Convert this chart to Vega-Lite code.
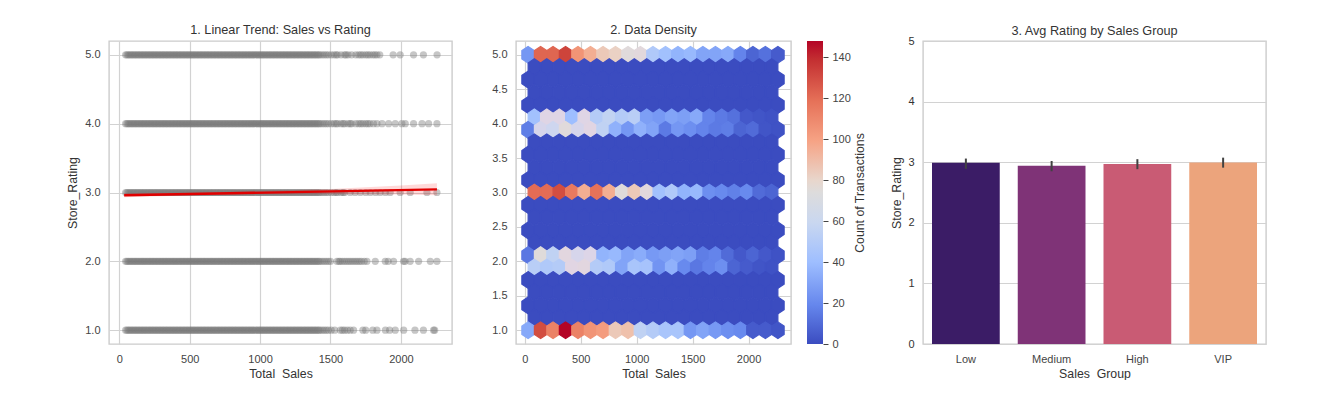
{
"$schema":"https://vega.github.io/schema/vega-lite/v6.json",
"background":"white",
"padding":{"left":66,"top":23,"right":0,"bottom":0},
"bounds":"flush",
"spacing":0,
"config":{
"font":"Liberation Sans",
"view":{"stroke":null},
"title":{"font":"Liberation Sans","fontSize":12.7,"fontWeight":"normal","color":"#333333","offset":4},
"axis":{"labelFont":"Liberation Sans","titleFont":"Liberation Sans","labelFontSize":11,"titleFontSize":12.3,"titleFontWeight":"normal","labelColor":"#444444","titleColor":"#333333","grid":true,"gridColor":"#d2d2d2","gridWidth":1.2,"domain":false,"ticks":false,"labelPadding":9},
"axisX":{"titlePadding":3}
},
"hconcat":[
{
"title":"1. Linear Trend: Sales vs Rating",
"width":343,"height":303,
"view":{"stroke":"#cccccc","strokeWidth":1.4},
"layer":[
{
"data":{"values":[
{"s":45,"r":5},{"s":55,"r":5},{"s":65,"r":5},{"s":75,"r":5},{"s":85,"r":5},{"s":95,"r":5},{"s":105,"r":5},{"s":115,"r":5},{"s":125,"r":5},{"s":135,"r":5},{"s":145,"r":5},{"s":155,"r":5},{"s":165,"r":5},{"s":175,"r":5},{"s":185,"r":5},{"s":195,"r":5},{"s":205,"r":5},{"s":215,"r":5},{"s":225,"r":5},{"s":235,"r":5},{"s":245,"r":5},{"s":255,"r":5},{"s":265,"r":5},{"s":275,"r":5},{"s":285,"r":5},{"s":295,"r":5},{"s":305,"r":5},{"s":315,"r":5},{"s":325,"r":5},{"s":335,"r":5},{"s":345,"r":5},{"s":355,"r":5},{"s":365,"r":5},{"s":375,"r":5},{"s":385,"r":5},{"s":395,"r":5},{"s":405,"r":5},{"s":415,"r":5},{"s":425,"r":5},{"s":435,"r":5},{"s":445,"r":5},{"s":455,"r":5},{"s":465,"r":5},{"s":475,"r":5},{"s":485,"r":5},{"s":495,"r":5},{"s":505,"r":5},{"s":515,"r":5},{"s":525,"r":5},{"s":535,"r":5},{"s":545,"r":5},{"s":555,"r":5},{"s":565,"r":5},{"s":575,"r":5},{"s":585,"r":5},{"s":595,"r":5},{"s":605,"r":5},{"s":615,"r":5},{"s":625,"r":5},{"s":635,"r":5},{"s":645,"r":5},{"s":655,"r":5},{"s":665,"r":5},{"s":675,"r":5},{"s":685,"r":5},{"s":695,"r":5},{"s":705,"r":5},{"s":715,"r":5},{"s":725,"r":5},{"s":735,"r":5},{"s":745,"r":5},{"s":755,"r":5},{"s":765,"r":5},{"s":775,"r":5},{"s":785,"r":5},{"s":795,"r":5},{"s":805,"r":5},{"s":815,"r":5},{"s":825,"r":5},{"s":835,"r":5},{"s":845,"r":5},{"s":855,"r":5},{"s":865,"r":5},{"s":875,"r":5},{"s":885,"r":5},{"s":895,"r":5},{"s":905,"r":5},{"s":915,"r":5},{"s":925,"r":5},{"s":935,"r":5},{"s":945,"r":5},{"s":955,"r":5},{"s":965,"r":5},{"s":975,"r":5},{"s":985,"r":5},{"s":995,"r":5},{"s":1005,"r":5},{"s":1015,"r":5},{"s":1025,"r":5},{"s":1035,"r":5},{"s":1045,"r":5},{"s":1055,"r":5},{"s":1065,"r":5},{"s":1075,"r":5},{"s":1085,"r":5},{"s":1095,"r":5},{"s":1105,"r":5},{"s":1115,"r":5},{"s":1125,"r":5},{"s":1135,"r":5},{"s":1145,"r":5},{"s":1155,"r":5},{"s":1165,"r":5},{"s":1175,"r":5},{"s":1185,"r":5},{"s":1195,"r":5},{"s":1205,"r":5},{"s":1215,"r":5},{"s":1225,"r":5},{"s":1235,"r":5},{"s":1245,"r":5},{"s":1255,"r":5},{"s":1265,"r":5},{"s":1275,"r":5},{"s":1285,"r":5},{"s":1295,"r":5},{"s":1305,"r":5},{"s":1315,"r":5},{"s":1325,"r":5},{"s":1335,"r":5},{"s":1345,"r":5},{"s":1355,"r":5},{"s":1365,"r":5},{"s":1375,"r":5},{"s":1385,"r":5},{"s":1395,"r":5},{"s":1405,"r":5},{"s":1415,"r":5},{"s":1425,"r":5},{"s":1440,"r":5},{"s":1455,"r":5},{"s":1470,"r":5},{"s":1485,"r":5},{"s":1505,"r":5},{"s":1525,"r":5},{"s":1540,"r":5},{"s":1550,"r":5},{"s":1575,"r":5},{"s":1600,"r":5},{"s":1610,"r":5},{"s":1625,"r":5},{"s":1650,"r":5},{"s":1680,"r":5},{"s":1700,"r":5},{"s":1715,"r":5},{"s":1730,"r":5},{"s":1750,"r":5},{"s":1765,"r":5},{"s":1780,"r":5},{"s":1800,"r":5},{"s":1815,"r":5},{"s":1830,"r":5},{"s":1850,"r":5},{"s":1945,"r":5},{"s":1995,"r":5},{"s":2090,"r":5},{"s":2160,"r":5},{"s":2257,"r":5},
{"s":45,"r":4},{"s":55,"r":4},{"s":65,"r":4},{"s":75,"r":4},{"s":85,"r":4},{"s":95,"r":4},{"s":105,"r":4},{"s":115,"r":4},{"s":125,"r":4},{"s":135,"r":4},{"s":145,"r":4},{"s":155,"r":4},{"s":165,"r":4},{"s":175,"r":4},{"s":185,"r":4},{"s":195,"r":4},{"s":205,"r":4},{"s":215,"r":4},{"s":225,"r":4},{"s":235,"r":4},{"s":245,"r":4},{"s":255,"r":4},{"s":265,"r":4},{"s":275,"r":4},{"s":285,"r":4},{"s":295,"r":4},{"s":305,"r":4},{"s":315,"r":4},{"s":325,"r":4},{"s":335,"r":4},{"s":345,"r":4},{"s":355,"r":4},{"s":365,"r":4},{"s":375,"r":4},{"s":385,"r":4},{"s":395,"r":4},{"s":405,"r":4},{"s":415,"r":4},{"s":425,"r":4},{"s":435,"r":4},{"s":445,"r":4},{"s":455,"r":4},{"s":465,"r":4},{"s":475,"r":4},{"s":485,"r":4},{"s":495,"r":4},{"s":505,"r":4},{"s":515,"r":4},{"s":525,"r":4},{"s":535,"r":4},{"s":545,"r":4},{"s":555,"r":4},{"s":565,"r":4},{"s":575,"r":4},{"s":585,"r":4},{"s":595,"r":4},{"s":605,"r":4},{"s":615,"r":4},{"s":625,"r":4},{"s":635,"r":4},{"s":645,"r":4},{"s":655,"r":4},{"s":665,"r":4},{"s":675,"r":4},{"s":685,"r":4},{"s":695,"r":4},{"s":705,"r":4},{"s":715,"r":4},{"s":725,"r":4},{"s":735,"r":4},{"s":745,"r":4},{"s":755,"r":4},{"s":765,"r":4},{"s":775,"r":4},{"s":785,"r":4},{"s":795,"r":4},{"s":805,"r":4},{"s":815,"r":4},{"s":825,"r":4},{"s":835,"r":4},{"s":845,"r":4},{"s":855,"r":4},{"s":865,"r":4},{"s":875,"r":4},{"s":885,"r":4},{"s":895,"r":4},{"s":905,"r":4},{"s":915,"r":4},{"s":925,"r":4},{"s":935,"r":4},{"s":945,"r":4},{"s":955,"r":4},{"s":965,"r":4},{"s":975,"r":4},{"s":985,"r":4},{"s":995,"r":4},{"s":1005,"r":4},{"s":1015,"r":4},{"s":1025,"r":4},{"s":1035,"r":4},{"s":1045,"r":4},{"s":1055,"r":4},{"s":1065,"r":4},{"s":1075,"r":4},{"s":1085,"r":4},{"s":1095,"r":4},{"s":1105,"r":4},{"s":1115,"r":4},{"s":1125,"r":4},{"s":1135,"r":4},{"s":1145,"r":4},{"s":1155,"r":4},{"s":1165,"r":4},{"s":1175,"r":4},{"s":1185,"r":4},{"s":1195,"r":4},{"s":1205,"r":4},{"s":1215,"r":4},{"s":1225,"r":4},{"s":1235,"r":4},{"s":1245,"r":4},{"s":1255,"r":4},{"s":1265,"r":4},{"s":1275,"r":4},{"s":1285,"r":4},{"s":1295,"r":4},{"s":1305,"r":4},{"s":1315,"r":4},{"s":1325,"r":4},{"s":1335,"r":4},{"s":1345,"r":4},{"s":1355,"r":4},{"s":1365,"r":4},{"s":1375,"r":4},{"s":1385,"r":4},{"s":1395,"r":4},{"s":1405,"r":4},{"s":1415,"r":4},{"s":1425,"r":4},{"s":1440,"r":4},{"s":1455,"r":4},{"s":1470,"r":4},{"s":1485,"r":4},{"s":1505,"r":4},{"s":1525,"r":4},{"s":1540,"r":4},{"s":1550,"r":4},{"s":1575,"r":4},{"s":1590,"r":4},{"s":1600,"r":4},{"s":1625,"r":4},{"s":1640,"r":4},{"s":1650,"r":4},{"s":1680,"r":4},{"s":1700,"r":4},{"s":1715,"r":4},{"s":1730,"r":4},{"s":1750,"r":4},{"s":1765,"r":4},{"s":1780,"r":4},{"s":1805,"r":4},{"s":1830,"r":4},{"s":1866,"r":4},{"s":1913,"r":4},{"s":1960,"r":4},{"s":2007,"r":4},{"s":2031,"r":4},{"s":2090,"r":4},{"s":2150,"r":4},{"s":2197,"r":4},{"s":2256,"r":4},
{"s":45,"r":3},{"s":55,"r":3},{"s":65,"r":3},{"s":75,"r":3},{"s":85,"r":3},{"s":95,"r":3},{"s":105,"r":3},{"s":115,"r":3},{"s":125,"r":3},{"s":135,"r":3},{"s":145,"r":3},{"s":155,"r":3},{"s":165,"r":3},{"s":175,"r":3},{"s":185,"r":3},{"s":195,"r":3},{"s":205,"r":3},{"s":215,"r":3},{"s":225,"r":3},{"s":235,"r":3},{"s":245,"r":3},{"s":255,"r":3},{"s":265,"r":3},{"s":275,"r":3},{"s":285,"r":3},{"s":295,"r":3},{"s":305,"r":3},{"s":315,"r":3},{"s":325,"r":3},{"s":335,"r":3},{"s":345,"r":3},{"s":355,"r":3},{"s":365,"r":3},{"s":375,"r":3},{"s":385,"r":3},{"s":395,"r":3},{"s":405,"r":3},{"s":415,"r":3},{"s":425,"r":3},{"s":435,"r":3},{"s":445,"r":3},{"s":455,"r":3},{"s":465,"r":3},{"s":475,"r":3},{"s":485,"r":3},{"s":495,"r":3},{"s":505,"r":3},{"s":515,"r":3},{"s":525,"r":3},{"s":535,"r":3},{"s":545,"r":3},{"s":555,"r":3},{"s":565,"r":3},{"s":575,"r":3},{"s":585,"r":3},{"s":595,"r":3},{"s":605,"r":3},{"s":615,"r":3},{"s":625,"r":3},{"s":635,"r":3},{"s":645,"r":3},{"s":655,"r":3},{"s":665,"r":3},{"s":675,"r":3},{"s":685,"r":3},{"s":695,"r":3},{"s":705,"r":3},{"s":715,"r":3},{"s":725,"r":3},{"s":735,"r":3},{"s":745,"r":3},{"s":755,"r":3},{"s":765,"r":3},{"s":775,"r":3},{"s":785,"r":3},{"s":795,"r":3},{"s":805,"r":3},{"s":815,"r":3},{"s":825,"r":3},{"s":835,"r":3},{"s":845,"r":3},{"s":855,"r":3},{"s":865,"r":3},{"s":875,"r":3},{"s":885,"r":3},{"s":895,"r":3},{"s":905,"r":3},{"s":915,"r":3},{"s":925,"r":3},{"s":935,"r":3},{"s":945,"r":3},{"s":955,"r":3},{"s":965,"r":3},{"s":975,"r":3},{"s":985,"r":3},{"s":995,"r":3},{"s":1005,"r":3},{"s":1015,"r":3},{"s":1025,"r":3},{"s":1035,"r":3},{"s":1045,"r":3},{"s":1055,"r":3},{"s":1065,"r":3},{"s":1075,"r":3},{"s":1085,"r":3},{"s":1095,"r":3},{"s":1105,"r":3},{"s":1115,"r":3},{"s":1125,"r":3},{"s":1135,"r":3},{"s":1145,"r":3},{"s":1155,"r":3},{"s":1165,"r":3},{"s":1175,"r":3},{"s":1185,"r":3},{"s":1195,"r":3},{"s":1205,"r":3},{"s":1215,"r":3},{"s":1225,"r":3},{"s":1235,"r":3},{"s":1245,"r":3},{"s":1255,"r":3},{"s":1265,"r":3},{"s":1275,"r":3},{"s":1285,"r":3},{"s":1295,"r":3},{"s":1305,"r":3},{"s":1315,"r":3},{"s":1325,"r":3},{"s":1335,"r":3},{"s":1345,"r":3},{"s":1355,"r":3},{"s":1365,"r":3},{"s":1375,"r":3},{"s":1385,"r":3},{"s":1395,"r":3},{"s":1405,"r":3},{"s":1415,"r":3},{"s":1425,"r":3},{"s":1440,"r":3},{"s":1455,"r":3},{"s":1470,"r":3},{"s":1485,"r":3},{"s":1505,"r":3},{"s":1525,"r":3},{"s":1540,"r":3},{"s":1550,"r":3},{"s":1575,"r":3},{"s":1590,"r":3},{"s":1600,"r":3},{"s":1640,"r":3},{"s":1675,"r":3},{"s":1712,"r":3},{"s":1750,"r":3},{"s":1783,"r":3},{"s":1820,"r":3},{"s":1853,"r":3},{"s":1890,"r":3},{"s":1924,"r":3},{"s":1995,"r":3},{"s":2066,"r":3},{"s":2185,"r":3},{"s":2256,"r":3},
{"s":45,"r":2},{"s":55,"r":2},{"s":65,"r":2},{"s":75,"r":2},{"s":85,"r":2},{"s":95,"r":2},{"s":105,"r":2},{"s":115,"r":2},{"s":125,"r":2},{"s":135,"r":2},{"s":145,"r":2},{"s":155,"r":2},{"s":165,"r":2},{"s":175,"r":2},{"s":185,"r":2},{"s":195,"r":2},{"s":205,"r":2},{"s":215,"r":2},{"s":225,"r":2},{"s":235,"r":2},{"s":245,"r":2},{"s":255,"r":2},{"s":265,"r":2},{"s":275,"r":2},{"s":285,"r":2},{"s":295,"r":2},{"s":305,"r":2},{"s":315,"r":2},{"s":325,"r":2},{"s":335,"r":2},{"s":345,"r":2},{"s":355,"r":2},{"s":365,"r":2},{"s":375,"r":2},{"s":385,"r":2},{"s":395,"r":2},{"s":405,"r":2},{"s":415,"r":2},{"s":425,"r":2},{"s":435,"r":2},{"s":445,"r":2},{"s":455,"r":2},{"s":465,"r":2},{"s":475,"r":2},{"s":485,"r":2},{"s":495,"r":2},{"s":505,"r":2},{"s":515,"r":2},{"s":525,"r":2},{"s":535,"r":2},{"s":545,"r":2},{"s":555,"r":2},{"s":565,"r":2},{"s":575,"r":2},{"s":585,"r":2},{"s":595,"r":2},{"s":605,"r":2},{"s":615,"r":2},{"s":625,"r":2},{"s":635,"r":2},{"s":645,"r":2},{"s":655,"r":2},{"s":665,"r":2},{"s":675,"r":2},{"s":685,"r":2},{"s":695,"r":2},{"s":705,"r":2},{"s":715,"r":2},{"s":725,"r":2},{"s":735,"r":2},{"s":745,"r":2},{"s":755,"r":2},{"s":765,"r":2},{"s":775,"r":2},{"s":785,"r":2},{"s":795,"r":2},{"s":805,"r":2},{"s":815,"r":2},{"s":825,"r":2},{"s":835,"r":2},{"s":845,"r":2},{"s":855,"r":2},{"s":865,"r":2},{"s":875,"r":2},{"s":885,"r":2},{"s":895,"r":2},{"s":905,"r":2},{"s":915,"r":2},{"s":925,"r":2},{"s":935,"r":2},{"s":945,"r":2},{"s":955,"r":2},{"s":965,"r":2},{"s":975,"r":2},{"s":985,"r":2},{"s":995,"r":2},{"s":1005,"r":2},{"s":1015,"r":2},{"s":1025,"r":2},{"s":1035,"r":2},{"s":1045,"r":2},{"s":1055,"r":2},{"s":1065,"r":2},{"s":1075,"r":2},{"s":1085,"r":2},{"s":1095,"r":2},{"s":1105,"r":2},{"s":1115,"r":2},{"s":1125,"r":2},{"s":1135,"r":2},{"s":1145,"r":2},{"s":1155,"r":2},{"s":1165,"r":2},{"s":1175,"r":2},{"s":1185,"r":2},{"s":1195,"r":2},{"s":1205,"r":2},{"s":1215,"r":2},{"s":1225,"r":2},{"s":1235,"r":2},{"s":1245,"r":2},{"s":1255,"r":2},{"s":1265,"r":2},{"s":1275,"r":2},{"s":1285,"r":2},{"s":1295,"r":2},{"s":1305,"r":2},{"s":1315,"r":2},{"s":1325,"r":2},{"s":1335,"r":2},{"s":1345,"r":2},{"s":1355,"r":2},{"s":1365,"r":2},{"s":1375,"r":2},{"s":1385,"r":2},{"s":1395,"r":2},{"s":1405,"r":2},{"s":1415,"r":2},{"s":1425,"r":2},{"s":1440,"r":2},{"s":1455,"r":2},{"s":1470,"r":2},{"s":1485,"r":2},{"s":1500,"r":2},{"s":1546,"r":2},{"s":1560,"r":2},{"s":1570,"r":2},{"s":1585,"r":2},{"s":1600,"r":2},{"s":1615,"r":2},{"s":1630,"r":2},{"s":1645,"r":2},{"s":1660,"r":2},{"s":1675,"r":2},{"s":1690,"r":2},{"s":1705,"r":2},{"s":1720,"r":2},{"s":1740,"r":2},{"s":1759,"r":2},{"s":1818,"r":2},{"s":1889,"r":2},{"s":1910,"r":2},{"s":1948,"r":2},{"s":2019,"r":2},{"s":2030,"r":2},{"s":2066,"r":2},{"s":2126,"r":2},{"s":2209,"r":2},{"s":2256,"r":2},
{"s":45,"r":1},{"s":55,"r":1},{"s":65,"r":1},{"s":75,"r":1},{"s":85,"r":1},{"s":95,"r":1},{"s":105,"r":1},{"s":115,"r":1},{"s":125,"r":1},{"s":135,"r":1},{"s":145,"r":1},{"s":155,"r":1},{"s":165,"r":1},{"s":175,"r":1},{"s":185,"r":1},{"s":195,"r":1},{"s":205,"r":1},{"s":215,"r":1},{"s":225,"r":1},{"s":235,"r":1},{"s":245,"r":1},{"s":255,"r":1},{"s":265,"r":1},{"s":275,"r":1},{"s":285,"r":1},{"s":295,"r":1},{"s":305,"r":1},{"s":315,"r":1},{"s":325,"r":1},{"s":335,"r":1},{"s":345,"r":1},{"s":355,"r":1},{"s":365,"r":1},{"s":375,"r":1},{"s":385,"r":1},{"s":395,"r":1},{"s":405,"r":1},{"s":415,"r":1},{"s":425,"r":1},{"s":435,"r":1},{"s":445,"r":1},{"s":455,"r":1},{"s":465,"r":1},{"s":475,"r":1},{"s":485,"r":1},{"s":495,"r":1},{"s":505,"r":1},{"s":515,"r":1},{"s":525,"r":1},{"s":535,"r":1},{"s":545,"r":1},{"s":555,"r":1},{"s":565,"r":1},{"s":575,"r":1},{"s":585,"r":1},{"s":595,"r":1},{"s":605,"r":1},{"s":615,"r":1},{"s":625,"r":1},{"s":635,"r":1},{"s":645,"r":1},{"s":655,"r":1},{"s":665,"r":1},{"s":675,"r":1},{"s":685,"r":1},{"s":695,"r":1},{"s":705,"r":1},{"s":715,"r":1},{"s":725,"r":1},{"s":735,"r":1},{"s":745,"r":1},{"s":755,"r":1},{"s":765,"r":1},{"s":775,"r":1},{"s":785,"r":1},{"s":795,"r":1},{"s":805,"r":1},{"s":815,"r":1},{"s":825,"r":1},{"s":835,"r":1},{"s":845,"r":1},{"s":855,"r":1},{"s":865,"r":1},{"s":875,"r":1},{"s":885,"r":1},{"s":895,"r":1},{"s":905,"r":1},{"s":915,"r":1},{"s":925,"r":1},{"s":935,"r":1},{"s":945,"r":1},{"s":955,"r":1},{"s":965,"r":1},{"s":975,"r":1},{"s":985,"r":1},{"s":995,"r":1},{"s":1005,"r":1},{"s":1015,"r":1},{"s":1025,"r":1},{"s":1035,"r":1},{"s":1045,"r":1},{"s":1055,"r":1},{"s":1065,"r":1},{"s":1075,"r":1},{"s":1085,"r":1},{"s":1095,"r":1},{"s":1105,"r":1},{"s":1115,"r":1},{"s":1125,"r":1},{"s":1135,"r":1},{"s":1145,"r":1},{"s":1155,"r":1},{"s":1165,"r":1},{"s":1175,"r":1},{"s":1185,"r":1},{"s":1195,"r":1},{"s":1205,"r":1},{"s":1215,"r":1},{"s":1225,"r":1},{"s":1235,"r":1},{"s":1245,"r":1},{"s":1255,"r":1},{"s":1265,"r":1},{"s":1275,"r":1},{"s":1285,"r":1},{"s":1295,"r":1},{"s":1305,"r":1},{"s":1315,"r":1},{"s":1325,"r":1},{"s":1335,"r":1},{"s":1345,"r":1},{"s":1355,"r":1},{"s":1365,"r":1},{"s":1375,"r":1},{"s":1385,"r":1},{"s":1395,"r":1},{"s":1405,"r":1},{"s":1415,"r":1},{"s":1425,"r":1},{"s":1440,"r":1},{"s":1455,"r":1},{"s":1470,"r":1},{"s":1485,"r":1},{"s":1505,"r":1},{"s":1530,"r":1},{"s":1570,"r":1},{"s":1585,"r":1},{"s":1600,"r":1},{"s":1620,"r":1},{"s":1640,"r":1},{"s":1664,"r":1},{"s":1730,"r":1},{"s":1750,"r":1},{"s":1800,"r":1},{"s":1830,"r":1},{"s":1890,"r":1},{"s":1920,"r":1},{"s":1960,"r":1},{"s":2020,"r":1},{"s":2100,"r":1},{"s":2160,"r":1},{"s":2232,"r":1},{"s":2240,"r":1}
]},
"mark":{"type":"circle","size":52,"color":"#777777","opacity":0.42},
"encoding":{
"x":{"field":"s","type":"quantitative","title":"Total_Sales","scale":{"domain":[-73,2363],"nice":false,"zero":false},"axis":{"values":[0,500,1000,1500,2000],"format":"d"}},
"y":{"field":"r","type":"quantitative","title":"Store_Rating","scale":{"domain":[0.8,5.2],"nice":false,"zero":false},"axis":{"values":[1,1.5,2,2.5,3,3.5,4,4.5,5],"format":".1f","titlePadding":5}}
}
},
{
"data":{"values":[{"s":35,"lo":2.93,"hi":2.99},{"s":500,"lo":2.955,"hi":2.995},{"s":1000,"lo":2.975,"hi":3.02},{"s":1500,"lo":2.975,"hi":3.05},{"s":2000,"lo":2.97,"hi":3.1},{"s":2256,"lo":2.96,"hi":3.135}]},
"mark":{"type":"area","color":"#ff0000","opacity":0.15},
"encoding":{
"x":{"field":"s","type":"quantitative"},
"y":{"field":"lo","type":"quantitative"},
"y2":{"field":"hi"}
}
},
{
"data":{"values":[{"s":35,"fit":2.959},{"s":2256,"fit":3.046}]},
"mark":{"type":"line","color":"#e00000","strokeWidth":2.4},
"encoding":{
"x":{"field":"s","type":"quantitative"},
"y":{"field":"fit","type":"quantitative"}
}
}
]
},
{"width":64,"height":303,"data":{"values":[]},"mark":{"type":"rect","opacity":0},"encoding":{}},
{
"title":"2. Data Density",
"width":275,"height":303,
"view":{"stroke":"#cccccc","strokeWidth":1.4},
"data":{"values":[
{"x":30,"y":5.0,"n":25},{"x":142,"y":5.0,"n":122},{"x":253,"y":5.0,"n":122},{"x":365,"y":5.0,"n":133},{"x":476,"y":5.0,"n":105},{"x":588,"y":5.0,"n":95},{"x":700,"y":5.0,"n":85},{"x":811,"y":5.0,"n":82},{"x":923,"y":5.0,"n":72},{"x":1034,"y":5.0,"n":70},{"x":1146,"y":5.0,"n":48},{"x":1258,"y":5.0,"n":42},{"x":1369,"y":5.0,"n":36},{"x":1481,"y":5.0,"n":38},{"x":1592,"y":5.0,"n":30},{"x":1704,"y":5.0,"n":30},{"x":1816,"y":5.0,"n":32},{"x":1927,"y":5.0,"n":18},{"x":2039,"y":5.0,"n":8},{"x":2150,"y":5.0,"n":12},{"x":2262,"y":5.0,"n":5},
{"x":86,"y":4.82,"n":0},{"x":197,"y":4.82,"n":0},{"x":309,"y":4.82,"n":0},{"x":421,"y":4.82,"n":0},{"x":532,"y":4.82,"n":0},{"x":644,"y":4.82,"n":0},{"x":755,"y":4.82,"n":0},{"x":867,"y":4.82,"n":0},{"x":979,"y":4.82,"n":0},{"x":1090,"y":4.82,"n":0},{"x":1202,"y":4.82,"n":0},{"x":1313,"y":4.82,"n":0},{"x":1425,"y":4.82,"n":0},{"x":1537,"y":4.82,"n":0},{"x":1648,"y":4.82,"n":0},{"x":1760,"y":4.82,"n":0},{"x":1871,"y":4.82,"n":0},{"x":1983,"y":4.82,"n":0},{"x":2095,"y":4.82,"n":0},{"x":2206,"y":4.82,"n":0},
{"x":30,"y":4.64,"n":0},{"x":142,"y":4.64,"n":0},{"x":253,"y":4.64,"n":0},{"x":365,"y":4.64,"n":0},{"x":476,"y":4.64,"n":0},{"x":588,"y":4.64,"n":0},{"x":700,"y":4.64,"n":0},{"x":811,"y":4.64,"n":0},{"x":923,"y":4.64,"n":0},{"x":1034,"y":4.64,"n":0},{"x":1146,"y":4.64,"n":0},{"x":1258,"y":4.64,"n":0},{"x":1369,"y":4.64,"n":0},{"x":1481,"y":4.64,"n":0},{"x":1592,"y":4.64,"n":0},{"x":1704,"y":4.64,"n":0},{"x":1816,"y":4.64,"n":0},{"x":1927,"y":4.64,"n":0},{"x":2039,"y":4.64,"n":0},{"x":2150,"y":4.64,"n":0},{"x":2262,"y":4.64,"n":0},
{"x":86,"y":4.45,"n":0},{"x":197,"y":4.45,"n":0},{"x":309,"y":4.45,"n":0},{"x":421,"y":4.45,"n":0},{"x":532,"y":4.45,"n":0},{"x":644,"y":4.45,"n":0},{"x":755,"y":4.45,"n":0},{"x":867,"y":4.45,"n":0},{"x":979,"y":4.45,"n":0},{"x":1090,"y":4.45,"n":0},{"x":1202,"y":4.45,"n":0},{"x":1313,"y":4.45,"n":0},{"x":1425,"y":4.45,"n":0},{"x":1537,"y":4.45,"n":0},{"x":1648,"y":4.45,"n":0},{"x":1760,"y":4.45,"n":0},{"x":1871,"y":4.45,"n":0},{"x":1983,"y":4.45,"n":0},{"x":2095,"y":4.45,"n":0},{"x":2206,"y":4.45,"n":0},
{"x":30,"y":4.27,"n":0},{"x":142,"y":4.27,"n":0},{"x":253,"y":4.27,"n":0},{"x":365,"y":4.27,"n":0},{"x":476,"y":4.27,"n":0},{"x":588,"y":4.27,"n":0},{"x":700,"y":4.27,"n":0},{"x":811,"y":4.27,"n":0},{"x":923,"y":4.27,"n":0},{"x":1034,"y":4.27,"n":0},{"x":1146,"y":4.27,"n":0},{"x":1258,"y":4.27,"n":0},{"x":1369,"y":4.27,"n":0},{"x":1481,"y":4.27,"n":0},{"x":1592,"y":4.27,"n":0},{"x":1704,"y":4.27,"n":0},{"x":1816,"y":4.27,"n":0},{"x":1927,"y":4.27,"n":0},{"x":2039,"y":4.27,"n":0},{"x":2150,"y":4.27,"n":0},{"x":2262,"y":4.27,"n":0},
{"x":86,"y":4.09,"n":42},{"x":197,"y":4.09,"n":65},{"x":309,"y":4.09,"n":65},{"x":421,"y":4.09,"n":40},{"x":532,"y":4.09,"n":65},{"x":644,"y":4.09,"n":50},{"x":755,"y":4.09,"n":56},{"x":867,"y":4.09,"n":50},{"x":979,"y":4.09,"n":52},{"x":1090,"y":4.09,"n":28},{"x":1202,"y":4.09,"n":26},{"x":1313,"y":4.09,"n":30},{"x":1425,"y":4.09,"n":28},{"x":1537,"y":4.09,"n":32},{"x":1648,"y":4.09,"n":18},{"x":1760,"y":4.09,"n":15},{"x":1871,"y":4.09,"n":12},{"x":1983,"y":4.09,"n":4},{"x":2095,"y":4.09,"n":3},{"x":2206,"y":4.09,"n":2},
{"x":30,"y":3.91,"n":16},{"x":142,"y":3.91,"n":62},{"x":253,"y":3.91,"n":60},{"x":365,"y":3.91,"n":72},{"x":476,"y":3.91,"n":62},{"x":588,"y":3.91,"n":66},{"x":700,"y":3.91,"n":55},{"x":811,"y":3.91,"n":35},{"x":923,"y":3.91,"n":25},{"x":1034,"y":3.91,"n":35},{"x":1146,"y":3.91,"n":30},{"x":1258,"y":3.91,"n":15},{"x":1369,"y":3.91,"n":25},{"x":1481,"y":3.91,"n":22},{"x":1592,"y":3.91,"n":18},{"x":1704,"y":3.91,"n":15},{"x":1816,"y":3.91,"n":16},{"x":1927,"y":3.91,"n":8},{"x":2039,"y":3.91,"n":10},{"x":2150,"y":3.91,"n":3},{"x":2262,"y":3.91,"n":2},
{"x":86,"y":3.73,"n":0},{"x":197,"y":3.73,"n":0},{"x":309,"y":3.73,"n":0},{"x":421,"y":3.73,"n":0},{"x":532,"y":3.73,"n":0},{"x":644,"y":3.73,"n":0},{"x":755,"y":3.73,"n":0},{"x":867,"y":3.73,"n":0},{"x":979,"y":3.73,"n":0},{"x":1090,"y":3.73,"n":0},{"x":1202,"y":3.73,"n":0},{"x":1313,"y":3.73,"n":0},{"x":1425,"y":3.73,"n":0},{"x":1537,"y":3.73,"n":0},{"x":1648,"y":3.73,"n":0},{"x":1760,"y":3.73,"n":0},{"x":1871,"y":3.73,"n":0},{"x":1983,"y":3.73,"n":0},{"x":2095,"y":3.73,"n":0},{"x":2206,"y":3.73,"n":0},
{"x":30,"y":3.55,"n":0},{"x":142,"y":3.55,"n":0},{"x":253,"y":3.55,"n":0},{"x":365,"y":3.55,"n":0},{"x":476,"y":3.55,"n":0},{"x":588,"y":3.55,"n":0},{"x":700,"y":3.55,"n":0},{"x":811,"y":3.55,"n":0},{"x":923,"y":3.55,"n":0},{"x":1034,"y":3.55,"n":0},{"x":1146,"y":3.55,"n":0},{"x":1258,"y":3.55,"n":0},{"x":1369,"y":3.55,"n":0},{"x":1481,"y":3.55,"n":0},{"x":1592,"y":3.55,"n":0},{"x":1704,"y":3.55,"n":0},{"x":1816,"y":3.55,"n":0},{"x":1927,"y":3.55,"n":0},{"x":2039,"y":3.55,"n":0},{"x":2150,"y":3.55,"n":0},{"x":2262,"y":3.55,"n":0},
{"x":86,"y":3.36,"n":0},{"x":197,"y":3.36,"n":0},{"x":309,"y":3.36,"n":0},{"x":421,"y":3.36,"n":0},{"x":532,"y":3.36,"n":0},{"x":644,"y":3.36,"n":0},{"x":755,"y":3.36,"n":0},{"x":867,"y":3.36,"n":0},{"x":979,"y":3.36,"n":0},{"x":1090,"y":3.36,"n":0},{"x":1202,"y":3.36,"n":0},{"x":1313,"y":3.36,"n":0},{"x":1425,"y":3.36,"n":0},{"x":1537,"y":3.36,"n":0},{"x":1648,"y":3.36,"n":0},{"x":1760,"y":3.36,"n":0},{"x":1871,"y":3.36,"n":0},{"x":1983,"y":3.36,"n":0},{"x":2095,"y":3.36,"n":0},{"x":2206,"y":3.36,"n":0},
{"x":30,"y":3.18,"n":0},{"x":142,"y":3.18,"n":0},{"x":253,"y":3.18,"n":0},{"x":365,"y":3.18,"n":0},{"x":476,"y":3.18,"n":0},{"x":588,"y":3.18,"n":0},{"x":700,"y":3.18,"n":0},{"x":811,"y":3.18,"n":0},{"x":923,"y":3.18,"n":0},{"x":1034,"y":3.18,"n":0},{"x":1146,"y":3.18,"n":0},{"x":1258,"y":3.18,"n":0},{"x":1369,"y":3.18,"n":0},{"x":1481,"y":3.18,"n":0},{"x":1592,"y":3.18,"n":0},{"x":1704,"y":3.18,"n":0},{"x":1816,"y":3.18,"n":0},{"x":1927,"y":3.18,"n":0},{"x":2039,"y":3.18,"n":0},{"x":2150,"y":3.18,"n":0},{"x":2262,"y":3.18,"n":0},
{"x":86,"y":3.0,"n":120},{"x":197,"y":3.0,"n":120},{"x":309,"y":3.0,"n":130},{"x":421,"y":3.0,"n":115},{"x":532,"y":3.0,"n":95},{"x":644,"y":3.0,"n":118},{"x":755,"y":3.0,"n":95},{"x":867,"y":3.0,"n":75},{"x":979,"y":3.0,"n":85},{"x":1090,"y":3.0,"n":70},{"x":1202,"y":3.0,"n":42},{"x":1313,"y":3.0,"n":48},{"x":1425,"y":3.0,"n":36},{"x":1537,"y":3.0,"n":38},{"x":1648,"y":3.0,"n":22},{"x":1760,"y":3.0,"n":20},{"x":1871,"y":3.0,"n":17},{"x":1983,"y":3.0,"n":20},{"x":2095,"y":3.0,"n":10},{"x":2206,"y":3.0,"n":8},
{"x":30,"y":2.82,"n":0},{"x":142,"y":2.82,"n":0},{"x":253,"y":2.82,"n":0},{"x":365,"y":2.82,"n":0},{"x":476,"y":2.82,"n":0},{"x":588,"y":2.82,"n":0},{"x":700,"y":2.82,"n":0},{"x":811,"y":2.82,"n":0},{"x":923,"y":2.82,"n":0},{"x":1034,"y":2.82,"n":0},{"x":1146,"y":2.82,"n":0},{"x":1258,"y":2.82,"n":0},{"x":1369,"y":2.82,"n":0},{"x":1481,"y":2.82,"n":0},{"x":1592,"y":2.82,"n":0},{"x":1704,"y":2.82,"n":0},{"x":1816,"y":2.82,"n":0},{"x":1927,"y":2.82,"n":0},{"x":2039,"y":2.82,"n":0},{"x":2150,"y":2.82,"n":0},{"x":2262,"y":2.82,"n":0},
{"x":86,"y":2.64,"n":0},{"x":197,"y":2.64,"n":0},{"x":309,"y":2.64,"n":0},{"x":421,"y":2.64,"n":0},{"x":532,"y":2.64,"n":0},{"x":644,"y":2.64,"n":0},{"x":755,"y":2.64,"n":0},{"x":867,"y":2.64,"n":0},{"x":979,"y":2.64,"n":0},{"x":1090,"y":2.64,"n":0},{"x":1202,"y":2.64,"n":0},{"x":1313,"y":2.64,"n":0},{"x":1425,"y":2.64,"n":0},{"x":1537,"y":2.64,"n":0},{"x":1648,"y":2.64,"n":0},{"x":1760,"y":2.64,"n":0},{"x":1871,"y":2.64,"n":0},{"x":1983,"y":2.64,"n":0},{"x":2095,"y":2.64,"n":0},{"x":2206,"y":2.64,"n":0},
{"x":30,"y":2.45,"n":0},{"x":142,"y":2.45,"n":0},{"x":253,"y":2.45,"n":0},{"x":365,"y":2.45,"n":0},{"x":476,"y":2.45,"n":0},{"x":588,"y":2.45,"n":0},{"x":700,"y":2.45,"n":0},{"x":811,"y":2.45,"n":0},{"x":923,"y":2.45,"n":0},{"x":1034,"y":2.45,"n":0},{"x":1146,"y":2.45,"n":0},{"x":1258,"y":2.45,"n":0},{"x":1369,"y":2.45,"n":0},{"x":1481,"y":2.45,"n":0},{"x":1592,"y":2.45,"n":0},{"x":1704,"y":2.45,"n":0},{"x":1816,"y":2.45,"n":0},{"x":1927,"y":2.45,"n":0},{"x":2039,"y":2.45,"n":0},{"x":2150,"y":2.45,"n":0},{"x":2262,"y":2.45,"n":0},
{"x":86,"y":2.27,"n":0},{"x":197,"y":2.27,"n":0},{"x":309,"y":2.27,"n":0},{"x":421,"y":2.27,"n":0},{"x":532,"y":2.27,"n":0},{"x":644,"y":2.27,"n":0},{"x":755,"y":2.27,"n":0},{"x":867,"y":2.27,"n":0},{"x":979,"y":2.27,"n":0},{"x":1090,"y":2.27,"n":0},{"x":1202,"y":2.27,"n":0},{"x":1313,"y":2.27,"n":0},{"x":1425,"y":2.27,"n":0},{"x":1537,"y":2.27,"n":0},{"x":1648,"y":2.27,"n":0},{"x":1760,"y":2.27,"n":0},{"x":1871,"y":2.27,"n":0},{"x":1983,"y":2.27,"n":0},{"x":2095,"y":2.27,"n":0},{"x":2206,"y":2.27,"n":0},
{"x":30,"y":2.09,"n":14},{"x":142,"y":2.09,"n":75},{"x":253,"y":2.09,"n":55},{"x":365,"y":2.09,"n":68},{"x":476,"y":2.09,"n":62},{"x":588,"y":2.09,"n":64},{"x":700,"y":2.09,"n":36},{"x":811,"y":2.09,"n":38},{"x":923,"y":2.09,"n":30},{"x":1034,"y":2.09,"n":33},{"x":1146,"y":2.09,"n":26},{"x":1258,"y":2.09,"n":28},{"x":1369,"y":2.09,"n":30},{"x":1481,"y":2.09,"n":28},{"x":1592,"y":2.09,"n":16},{"x":1704,"y":2.09,"n":18},{"x":1816,"y":2.09,"n":10},{"x":1927,"y":2.09,"n":4},{"x":2039,"y":2.09,"n":8},{"x":2150,"y":2.09,"n":4},{"x":2262,"y":2.09,"n":2},
{"x":86,"y":1.91,"n":52},{"x":197,"y":1.91,"n":48},{"x":309,"y":1.91,"n":50},{"x":421,"y":1.91,"n":66},{"x":532,"y":1.91,"n":68},{"x":644,"y":1.91,"n":50},{"x":755,"y":1.91,"n":48},{"x":867,"y":1.91,"n":30},{"x":979,"y":1.91,"n":45},{"x":1090,"y":1.91,"n":44},{"x":1202,"y":1.91,"n":24},{"x":1313,"y":1.91,"n":35},{"x":1425,"y":1.91,"n":20},{"x":1537,"y":1.91,"n":14},{"x":1648,"y":1.91,"n":18},{"x":1760,"y":1.91,"n":22},{"x":1871,"y":1.91,"n":8},{"x":1983,"y":1.91,"n":5},{"x":2095,"y":1.91,"n":3},{"x":2206,"y":1.91,"n":2},
{"x":30,"y":1.73,"n":0},{"x":142,"y":1.73,"n":0},{"x":253,"y":1.73,"n":0},{"x":365,"y":1.73,"n":0},{"x":476,"y":1.73,"n":0},{"x":588,"y":1.73,"n":0},{"x":700,"y":1.73,"n":0},{"x":811,"y":1.73,"n":0},{"x":923,"y":1.73,"n":0},{"x":1034,"y":1.73,"n":0},{"x":1146,"y":1.73,"n":0},{"x":1258,"y":1.73,"n":0},{"x":1369,"y":1.73,"n":0},{"x":1481,"y":1.73,"n":0},{"x":1592,"y":1.73,"n":0},{"x":1704,"y":1.73,"n":0},{"x":1816,"y":1.73,"n":0},{"x":1927,"y":1.73,"n":0},{"x":2039,"y":1.73,"n":0},{"x":2150,"y":1.73,"n":0},{"x":2262,"y":1.73,"n":0},
{"x":86,"y":1.55,"n":0},{"x":197,"y":1.55,"n":0},{"x":309,"y":1.55,"n":0},{"x":421,"y":1.55,"n":0},{"x":532,"y":1.55,"n":0},{"x":644,"y":1.55,"n":0},{"x":755,"y":1.55,"n":0},{"x":867,"y":1.55,"n":0},{"x":979,"y":1.55,"n":0},{"x":1090,"y":1.55,"n":0},{"x":1202,"y":1.55,"n":0},{"x":1313,"y":1.55,"n":0},{"x":1425,"y":1.55,"n":0},{"x":1537,"y":1.55,"n":0},{"x":1648,"y":1.55,"n":0},{"x":1760,"y":1.55,"n":0},{"x":1871,"y":1.55,"n":0},{"x":1983,"y":1.55,"n":0},{"x":2095,"y":1.55,"n":0},{"x":2206,"y":1.55,"n":0},
{"x":30,"y":1.36,"n":0},{"x":142,"y":1.36,"n":0},{"x":253,"y":1.36,"n":0},{"x":365,"y":1.36,"n":0},{"x":476,"y":1.36,"n":0},{"x":588,"y":1.36,"n":0},{"x":700,"y":1.36,"n":0},{"x":811,"y":1.36,"n":0},{"x":923,"y":1.36,"n":0},{"x":1034,"y":1.36,"n":0},{"x":1146,"y":1.36,"n":0},{"x":1258,"y":1.36,"n":0},{"x":1369,"y":1.36,"n":0},{"x":1481,"y":1.36,"n":0},{"x":1592,"y":1.36,"n":0},{"x":1704,"y":1.36,"n":0},{"x":1816,"y":1.36,"n":0},{"x":1927,"y":1.36,"n":0},{"x":2039,"y":1.36,"n":0},{"x":2150,"y":1.36,"n":0},{"x":2262,"y":1.36,"n":0},
{"x":86,"y":1.18,"n":0},{"x":197,"y":1.18,"n":0},{"x":309,"y":1.18,"n":0},{"x":421,"y":1.18,"n":0},{"x":532,"y":1.18,"n":0},{"x":644,"y":1.18,"n":0},{"x":755,"y":1.18,"n":0},{"x":867,"y":1.18,"n":0},{"x":979,"y":1.18,"n":0},{"x":1090,"y":1.18,"n":0},{"x":1202,"y":1.18,"n":0},{"x":1313,"y":1.18,"n":0},{"x":1425,"y":1.18,"n":0},{"x":1537,"y":1.18,"n":0},{"x":1648,"y":1.18,"n":0},{"x":1760,"y":1.18,"n":0},{"x":1871,"y":1.18,"n":0},{"x":1983,"y":1.18,"n":0},{"x":2095,"y":1.18,"n":0},{"x":2206,"y":1.18,"n":0},
{"x":30,"y":1.0,"n":32},{"x":142,"y":1.0,"n":130},{"x":253,"y":1.0,"n":112},{"x":365,"y":1.0,"n":148},{"x":476,"y":1.0,"n":112},{"x":588,"y":1.0,"n":105},{"x":700,"y":1.0,"n":102},{"x":811,"y":1.0,"n":85},{"x":923,"y":1.0,"n":88},{"x":1034,"y":1.0,"n":55},{"x":1146,"y":1.0,"n":50},{"x":1258,"y":1.0,"n":45},{"x":1369,"y":1.0,"n":45},{"x":1481,"y":1.0,"n":25},{"x":1592,"y":1.0,"n":30},{"x":1704,"y":1.0,"n":26},{"x":1816,"y":1.0,"n":22},{"x":1927,"y":1.0,"n":20},{"x":2039,"y":1.0,"n":5},{"x":2150,"y":1.0,"n":5},{"x":2262,"y":1.0,"n":3}
]},
"mark":{"type":"point","filled":true,"opacity":1,"size":279,"strokeWidth":1.2,"shape":"M0,-1L0.746,-0.5L0.746,0.5L0,1L-0.746,0.5L-0.746,-0.5Z"},
"encoding":{
"x":{"field":"x","type":"quantitative","title":"Total_Sales","scale":{"domain":[-78,2379],"nice":false,"zero":false},"axis":{"values":[0,500,1000,1500,2000],"format":"d"}},
"y":{"field":"y","type":"quantitative","title":null,"scale":{"domain":[0.8,5.2],"nice":false,"zero":false},"axis":{"values":[1,1.5,2,2.5,3,3.5,4,4.5,5],"format":".1f"}},
"color":{"field":"n","type":"quantitative","legend":null,"scale":{"domain":[0,19,40,59,74,80,99,118,139,148],"range":["#3b4cc0","#6687ed","#9ebeff","#c9d7f0","#dddcdc","#e8d6cc","#f6a385","#e67259","#c32e31","#b40426"]}},
"stroke":{"field":"n","type":"quantitative","legend":null,"scale":{"domain":[0,19,40,59,74,80,99,118,139,148],"range":["#3b4cc0","#6687ed","#9ebeff","#c9d7f0","#dddcdc","#e8d6cc","#f6a385","#e67259","#c32e31","#b40426"]}}
}
},
{"width":16,"height":303,"data":{"values":[]},"mark":{"type":"rect","opacity":0},"encoding":{}},
{
"width":16,"height":303,
"data":{"values":[{"lo":0,"hi":148}]},
"mark":{"type":"rect","fill":{"gradient":"linear","x1":0,"y1":1,"x2":0,"y2":0,"stops":[{"offset":0,"color":"#3b4cc0"},{"offset":0.13,"color":"#6687ed"},{"offset":0.27,"color":"#9ebeff"},{"offset":0.4,"color":"#c9d7f0"},{"offset":0.5,"color":"#dddcdc"},{"offset":0.54,"color":"#e8d6cc"},{"offset":0.67,"color":"#f6a385"},{"offset":0.8,"color":"#e67259"},{"offset":0.94,"color":"#c32e31"},{"offset":1,"color":"#b40426"}]}},
"encoding":{
"y":{"field":"lo","type":"quantitative","title":"Count of Transactions","scale":{"domain":[0,148],"nice":false},"axis":{"orient":"right","grid":false,"ticks":true,"tickSize":5,"tickColor":"#444444","labelPadding":4,"titlePadding":16,"titleAngle":270,"values":[0,20,40,60,80,100,120,140]}},
"y2":{"field":"hi"}
}
},
{"width":100,"height":303,"data":{"values":[]},"mark":{"type":"rect","opacity":0},"encoding":{}},
{
"title":{"text":"3. Avg Rating by Sales Group","offset":-3},
"width":343,"height":303,
"view":{"stroke":"#cccccc","strokeWidth":1.4},
"data":{"values":[
{"group":"Low","avg":2.99,"lo":2.89,"hi":3.06},
{"group":"Medium","avg":2.94,"lo":2.85,"hi":3.02},
{"group":"High","avg":2.97,"lo":2.885,"hi":3.05},
{"group":"VIP","avg":2.995,"lo":2.91,"hi":3.075}
]},
"encoding":{
"x":{"field":"group","type":"nominal","title":"Sales_Group","sort":null,"scale":{"paddingInner":0.21,"paddingOuter":0.105},"axis":{"labelAngle":0,"grid":false}}
},
"layer":[
{
"mark":{"type":"bar"},
"encoding":{
"y":{"field":"avg","type":"quantitative","title":"Store_Rating","scale":{"domain":[0,5],"nice":false},"axis":{"values":[0,1,2,3,4,5],"format":"d","labelColor":"#333333"}},
"color":{"field":"group","type":"nominal","sort":null,"legend":null,"scale":{"domain":["Low","Medium","High","VIP"],"range":["#3b1c66","#7f3377","#c95b74","#eca47c"]}}
}
},
{
"mark":{"type":"rule","color":"#424242","strokeWidth":2},
"encoding":{
"y":{"field":"lo","type":"quantitative"},
"y2":{"field":"hi"}
}
}
]
}
]
}
